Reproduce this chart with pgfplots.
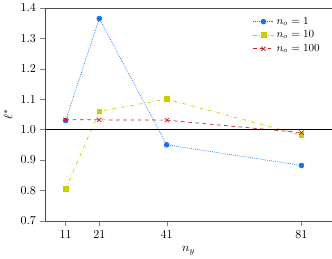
\documentclass[border=0pt]{standalone}
\usepackage{pgfplots}
\pgfplotsset{compat=1.18}
\definecolor{cb}{RGB}{20,115,245}
\definecolor{cy}{RGB}{205,205,0}
\definecolor{cr}{RGB}{205,30,30}
\begin{document}
\begin{tikzpicture}
\begin{axis}[
  scale only axis, width=238pt, height=177pt,
  xmin=5, xmax=90, ymin=0.7, ymax=1.4,
  xtick={11,21,41,81}, ytick={0.7,0.8,0.9,1.0,1.1,1.2,1.3,1.4},
  yticklabel style={/pgf/number format/fixed,/pgf/number format/precision=1,/pgf/number format/fixed zerofill},
  tick align=outside, xtick pos=bottom, ytick pos=left,
  axis line style={black!70},
  xlabel={$n_y$}, ylabel={$\ell^*$},
  legend style={draw=none, fill=none, at={(0.98,0.98)}, anchor=north east, font=\small},
  legend cell align=left,
]
\addplot[cb, densely dotted, semithick, mark=*, mark size=2pt, mark options={solid}] coordinates {(11,1.03) (21,1.365) (41,0.95) (81,0.882)};
\addlegendentry{$n_o=1$}
\addplot[cy, dashdotted, semithick, mark=square*, mark size=2pt, mark options={solid}] coordinates {(11,0.805) (21,1.06) (41,1.10) (81,0.982)};
\addlegendentry{$n_o=10$}
\addplot[cr, dashed, semithick, mark=x, mark size=2.5pt, mark options={solid}] coordinates {(11,1.032) (21,1.032) (41,1.031) (81,0.99)};
\addlegendentry{$n_o=100$}
\addplot[black, thick, forget plot] coordinates {(5,1.0) (90,1.0)};
\end{axis}
\end{tikzpicture}
\end{document}
